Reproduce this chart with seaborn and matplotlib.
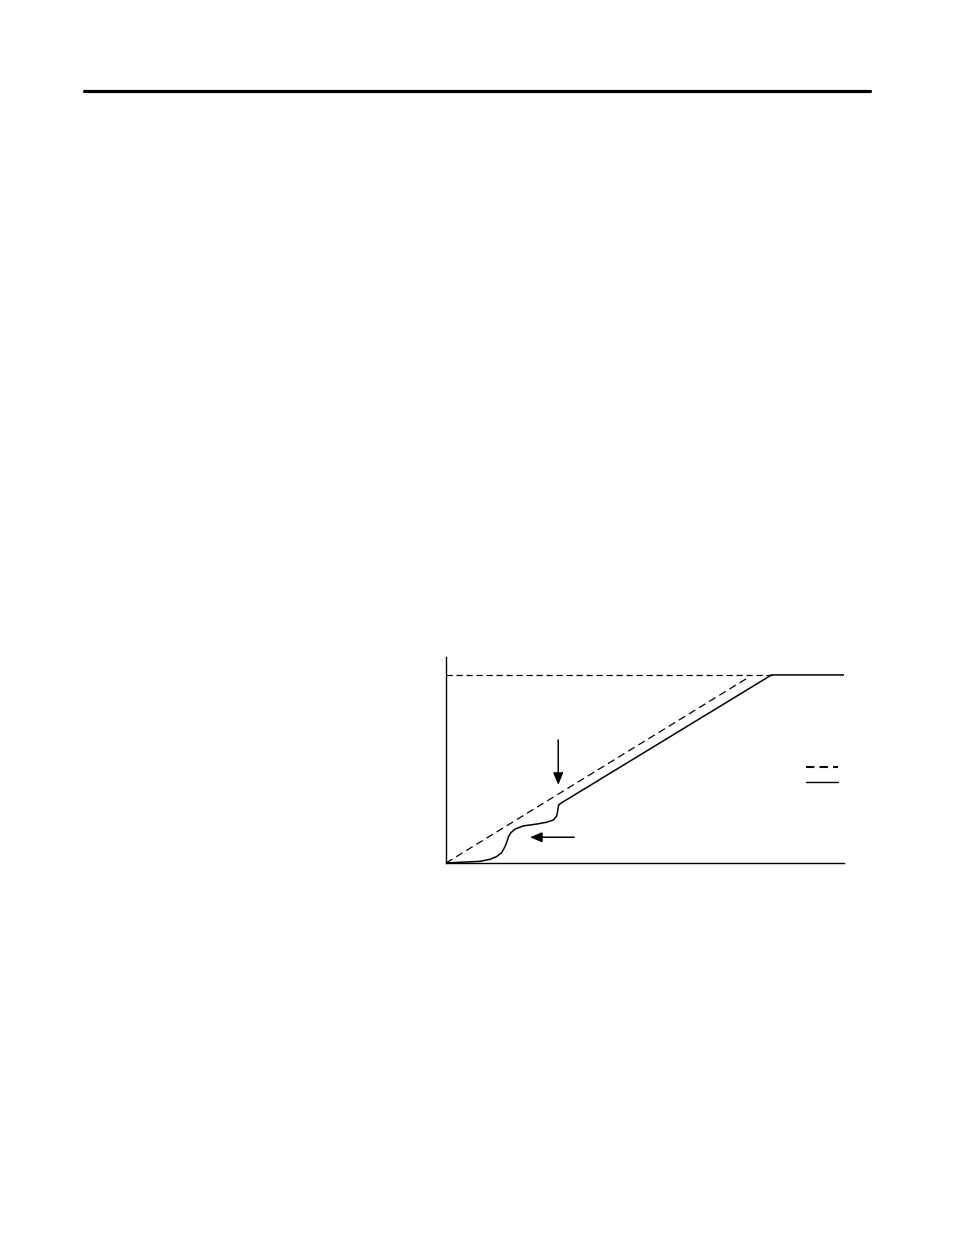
import numpy as np
import pandas as pd
import seaborn as sns
import matplotlib.pyplot as plt
from matplotlib.lines import Line2D

# ---------------------------------------------------------------
# values (axes run 0..100 on both sides)
# ---------------------------------------------------------------
limit_x = [0.0, 81.8]
limit_y = [91.3, 91.3]

ramp_x = [0.0, 76.0]
ramp_y = [0.0, 90.1]

actual_x = [0.0, 5.2, 8.5, 11.1, 12.7, 14.0, 14.8, 15.3, 15.7, 16.3, 17.3,
            19.4, 22.8, 25.3, 27.0, 27.8, 28.1, 28.3, 29.1, 81.8, 100.0]
actual_y = [0.0, 0.5, 0.8, 1.8, 3.1, 5.0, 7.9, 10.3, 12.8, 14.7, 16.4,
            18.0, 18.9, 19.8, 20.9, 22.8, 25.7, 28.2, 29.3, 91.3, 91.3]

# arrows: (start x, start y, end x, end y)
arrow_down = [28.2, 59.7, 28.2, 37.9]
arrow_left = [32.2, 12.5, 21.1, 12.5]

# legend key samples
key_x = [90.5, 98.6]
key_dash_y = [46.7, 46.7]
key_solid_y = [39.2, 39.2]

sns.set_style("white")

fig = plt.figure(figsize=(9.54, 12.35), dpi=100)

# page header rule
fig.add_artist(Line2D([84 / 954, 870 / 954], [1 - 91 / 1235, 1 - 91 / 1235],
                      color="black", linewidth=2.3))

ax = fig.add_axes([446 / 954, 1 - 863 / 1235, 398 / 954, 206 / 1235])

df_limit = pd.DataFrame({"x": limit_x, "y": limit_y})
df_ramp = pd.DataFrame({"x": ramp_x, "y": ramp_y})
df_actual = pd.DataFrame({"x": actual_x, "y": actual_y})

sns.lineplot(data=df_limit, x="x", y="y", ax=ax, color="black",
             linewidth=0.9, linestyle=(0, (5, 3)), sort=False)
sns.lineplot(data=df_ramp, x="x", y="y", ax=ax, color="black",
             linewidth=0.9, linestyle=(0, (6, 3.5)), sort=False)
sns.lineplot(data=df_actual, x="x", y="y", ax=ax, color="black",
             linewidth=1.1, sort=False)

# legend keys (no text in the reference)
sns.lineplot(x=key_x, y=key_dash_y, ax=ax, color="black",
             linewidth=1.5, linestyle=(0, (4, 2.5)))
sns.lineplot(x=key_x, y=key_solid_y, ax=ax, color="black", linewidth=1.0)

for a in (arrow_down, arrow_left):
    ax.annotate("", xy=(a[2], a[3]), xytext=(a[0], a[1]),
                arrowprops=dict(arrowstyle="-|>,head_length=0.6,head_width=0.25",
                                color="black", lw=1.1, mutation_scale=12,
                                shrinkA=0, shrinkB=0))

ax.set_xlim(0, 100)
ax.set_ylim(0, 100)
ax.set_xticks([])
ax.set_yticks([])
ax.set_xlabel("")
ax.set_ylabel("")
for side in ("top", "right"):
    ax.spines[side].set_visible(False)
for side in ("left", "bottom"):
    ax.spines[side].set_color("black")
    ax.spines[side].set_linewidth(1.0)

fig.savefig("out.png", dpi=100)
